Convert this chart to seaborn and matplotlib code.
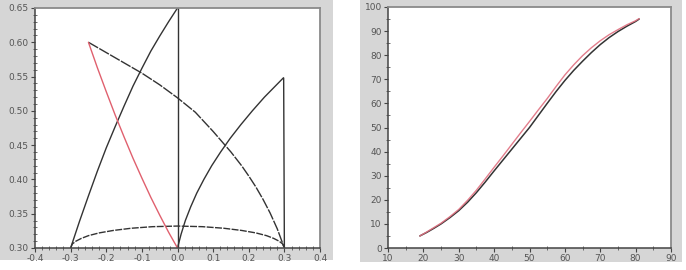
import matplotlib
matplotlib.use("Agg")
import matplotlib.pyplot as plt
import seaborn as sns
from matplotlib.patches import Rectangle
from matplotlib.ticker import MultipleLocator, FormatStrFormatter

# ---- Left panel data ----
arc_a_x = [-0.300, -0.275, -0.250, -0.225, -0.200, -0.175, -0.150, -0.125,
           -0.100, -0.075, -0.050, -0.025, 0.000]
arc_a_y = [0.300, 0.339, 0.376, 0.412, 0.446, 0.477, 0.507, 0.536,
           0.562, 0.587, 0.609, 0.630, 0.650]
vert0_x = [0.0, 0.0]
vert0_y = [0.30, 0.65]
arc_b_x = [-0.25, -0.20, -0.15, -0.10, -0.05, 0.00, 0.05, 0.10, 0.15, 0.18,
           0.20, 0.22, 0.24, 0.26, 0.28, 0.30]
arc_b_y = [0.600, 0.585, 0.570, 0.555, 0.538, 0.519, 0.498, 0.470, 0.440, 0.420,
           0.405, 0.389, 0.371, 0.351, 0.328, 0.300]
red_x = [-0.250, -0.225, -0.200, -0.175, -0.150, -0.125, -0.100, -0.075,
         -0.050, -0.025, 0.000]
red_y = [0.600, 0.563, 0.528, 0.494, 0.462, 0.431, 0.402, 0.374,
         0.348, 0.323, 0.300]
arc_c_x = [0.000, 0.010, 0.022, 0.037, 0.054, 0.074, 0.096, 0.121, 0.148,
           0.178, 0.210, 0.244, 0.297]
arc_c_y = [0.300, 0.320, 0.340, 0.360, 0.380, 0.400, 0.420, 0.440, 0.460,
           0.480, 0.500, 0.520, 0.548]
vert3_x = [0.298, 0.30]
vert3_y = [0.548, 0.30]
arc_e_x = [-0.300, -0.295, -0.285, -0.270, -0.250, -0.220, -0.180, -0.130,
           -0.070, 0.000, 0.070, 0.130, 0.180, 0.220, 0.250, 0.270, 0.285,
           0.295, 0.300]
arc_e_y = [0.300, 0.306, 0.310, 0.314, 0.318, 0.322, 0.3256, 0.3288, 0.3311,
           0.332, 0.3311, 0.3288, 0.3256, 0.322, 0.318, 0.314, 0.310, 0.306,
           0.300]

# ---- Right panel data ----
curve_x = [19, 21, 23, 25, 27.5, 30, 32.5, 35, 37.5, 40, 42.5, 45, 47.5, 50,
           52.5, 55, 57.5, 60, 62.5, 65, 67.5, 70, 72.5, 75, 77.5, 80, 81]
black_y = [5, 6.5, 8.2, 10, 12.6, 15.5, 19, 23, 27.4, 32, 36.5, 41, 45.5, 50,
           55, 60, 64.9, 69.5, 73.7, 77.5, 81.1, 84.4, 87.3, 89.8, 92, 94, 95]
red_y2 = [5, 6.7, 8.5, 10.3, 13, 16, 19.8, 24, 28.7, 33.5, 38.2, 43, 47.8, 52.5,
          57.3, 62, 67, 71.8, 76, 79.8, 83.1, 86, 88.5, 90.6, 92.6, 94.3, 95.2]

sns.set_style("ticks")
plt.rcParams["axes.unicode_minus"] = False
plt.rcParams["font.family"] = ["DejaVu Sans"]

W, H = 686, 270
fig = plt.figure(figsize=(W / 100, H / 100), dpi=100)
fig.patch.set_facecolor("white")

bg = "#d6d6d6"
fig.patches.append(Rectangle((0, 1 - 260 / H), 333 / W, 260 / H,
                             transform=fig.transFigure, facecolor=bg,
                             edgecolor="none", zorder=-10))
fig.patches.append(Rectangle((360 / W, 1 - 262 / H), 322 / W, 262 / H,
                             transform=fig.transFigure, facecolor=bg,
                             edgecolor="none", zorder=-10))


def make_ax(l, r, t, b):
    a = fig.add_axes([l / W, 1 - b / H, (r - l) / W, (b - t) / H])
    a.set_zorder(5)
    return a


ax1 = make_ax(35, 320, 8, 248)
ax2 = make_ax(388, 671, 7, 248)

dark = "#333333"
kw = dict(estimator=None, sort=False, legend=False)
sns.lineplot(x=arc_a_x, y=arc_a_y, ax=ax1, color=dark, lw=1.0, **kw)
sns.lineplot(x=vert0_x, y=vert0_y, ax=ax1, color=dark, lw=1.0, **kw)
sns.lineplot(x=arc_b_x, y=arc_b_y, ax=ax1, color=dark, lw=1.0,
             linestyle=(0, (8, 1)), **kw)
sns.lineplot(x=arc_c_x, y=arc_c_y, ax=ax1, color=dark, lw=1.0, **kw)
sns.lineplot(x=vert3_x, y=vert3_y, ax=ax1, color=dark, lw=1.0, **kw)
sns.lineplot(x=arc_e_x, y=arc_e_y, ax=ax1, color=dark, lw=1.0,
             linestyle=(0, (5, 1)), **kw)
sns.lineplot(x=red_x, y=red_y, ax=ax1, color="#e0606e", lw=1.0, **kw)

sns.lineplot(x=curve_x, y=black_y, ax=ax2, color="#333333", lw=1.1, **kw)
sns.lineplot(x=curve_x, y=red_y2, ax=ax2, color="#e07080", lw=1.0, alpha=0.9, **kw)

ax1.set_xlim(-0.4, 0.4)
ax1.set_ylim(0.30, 0.65)
ax1.xaxis.set_major_locator(MultipleLocator(0.1))
ax1.xaxis.set_minor_locator(MultipleLocator(0.02))
ax1.yaxis.set_major_locator(MultipleLocator(0.05))
ax1.yaxis.set_minor_locator(MultipleLocator(0.01))
ax1.xaxis.set_major_formatter(FormatStrFormatter("%.1f"))
ax1.yaxis.set_major_formatter(FormatStrFormatter("%.2f"))

ax2.set_xlim(10, 90)
ax2.set_ylim(0, 100)
ax2.xaxis.set_major_locator(MultipleLocator(10))
ax2.xaxis.set_minor_locator(MultipleLocator(5))
ax2.yaxis.set_major_locator(MultipleLocator(10))
ax2.yaxis.set_minor_locator(MultipleLocator(5))

for ax in (ax1, ax2):
    ax.set_facecolor("white")
    ax.set_xlabel("")
    ax.set_ylabel("")
    for side in ("left", "bottom"):
        ax.spines[side].set_color("#444444")
        ax.spines[side].set_linewidth(1.1)
    for side in ("top", "right"):
        ax.spines[side].set_color("#8a8a8a")
        ax.spines[side].set_linewidth(1.3)
    ax.tick_params(which="major", direction="out", length=3, width=0.8,
                   color="#444444", labelsize=6.5, labelcolor="#555555", pad=1.5)
    ax.tick_params(which="minor", direction="inout", length=2.5, width=0.6,
                   color="#555555")

fig.savefig("out.png", dpi=100, facecolor=fig.get_facecolor())
